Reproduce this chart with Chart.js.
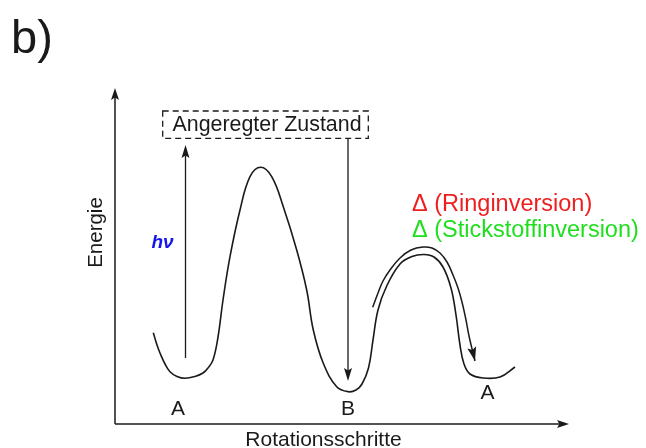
<!DOCTYPE html>
<html><head><meta charset="utf-8">
<script src="https://cdn.jsdelivr.net/npm/chart.js@4"></script>
<style>html,body{margin:0;padding:0;background:#fff;overflow:hidden}#wrap{width:646px;height:448px;position:relative}</style>
</head><body><div id="wrap"><canvas id="c" width="646" height="448"></canvas></div>
<script>
// Potential energy curve (arbitrary units)
const rotationSteps = [38.3,42,45,50,55,62,70,80,88,93,98,103,108,115,125,135,145.7,156.7,168.3,181.7,191.7,198.3,208.3,221.7,233.3,241,247,253.5,258,263,271.7,285,297,309,319,328,336,341,345,349,355,368,385,400];
const energy        = [91.3,79,71,60,52.3,47.5,45.7,47.5,51,56,64,87,124,167.3,214,247.3,256.7,247.3,217.3,174,134,94,60.7,37.3,32.3,34,40,56,84,114,138,160,167.5,169.5,167,157,136,109,79,60,50,46,47,57];
// Thermal pathway arc (arrow over second barrier)
const arcSteps  = [257.7,263,268,275,285,296,308,317,325,332,338,343,347,351,354,360];
const arcEnergy = [116.7,131,143,154,166,174,177,176,171,162,149,136,122,104,88,63];
// Minima labels
const wellLabels = ['A','B','A'];
const wellSteps = [63,233,372.5];
const wellLabelEnergy = [9,9,25];
// Vertical transitions [step, from energy, to energy]
const excitation = [70.5,66,279];
const relaxation = [233,285.7,43];
// Excited state box [step left, step right, energy bottom, energy top]
const excitedBox = [47.7,253.3,285.7,313];
const excitedLabel = 'Angeregter Zustand';
const xTitle = 'Rotationsschritte';
const yTitle = 'Energie';
const panelLabel = 'b)';
const photonLabel = 'hν';
const thermalLabels = ['Δ (Ringinversion)','Δ (Stickstoffinversion)'];

const ink = '#1a1a1a';
const FONT = "'Liberation Sans', Arial, sans-serif";

function pts(xs, ys){ return xs.map((v,i)=>({x:v,y:ys[i]})); }

function arrowHead(ctx, x0, y0, x1, y1, L, W){
  const ang = Math.atan2(y1-y0, x1-x0);
  ctx.beginPath();
  ctx.moveTo(x1, y1);
  ctx.lineTo(x1 - L*Math.cos(ang) + W*Math.sin(ang), y1 - L*Math.sin(ang) - W*Math.cos(ang));
  ctx.lineTo(x1 - L*Math.cos(ang)*0.8, y1 - L*Math.sin(ang)*0.8);
  ctx.lineTo(x1 - L*Math.cos(ang) - W*Math.sin(ang), y1 - L*Math.sin(ang) + W*Math.cos(ang));
  ctx.closePath();
  ctx.fill();
}
function seg(ctx, x0,y0,x1,y1){ ctx.beginPath(); ctx.moveTo(x0,y0); ctx.lineTo(x1,y1); ctx.stroke(); }

const diagram = {
  id:'diagram',
  afterDatasetsDraw(chart){
    const {ctx, chartArea:a, scales:{x,y}} = chart;
    const X = v=>x.getPixelForValue(v), Y = v=>y.getPixelForValue(v);
    ctx.save();
    ctx.strokeStyle = ink; ctx.fillStyle = ink; ctx.lineWidth = 1.5;
    // axes
    seg(ctx, a.left, a.bottom, a.left, a.top+8);
    arrowHead(ctx, a.left, a.bottom, a.left, a.top, 12, 4);
    seg(ctx, a.left, a.bottom, a.right-8, a.bottom);
    arrowHead(ctx, a.left, a.bottom, a.right, a.bottom, 12, 4);
    // transitions
    ctx.lineWidth = 1.3;
    seg(ctx, X(excitation[0]), Y(excitation[1]), X(excitation[0]), Y(excitation[2])+8);
    arrowHead(ctx, X(excitation[0]), Y(excitation[1]), X(excitation[0]), Y(excitation[2]), 13, 4);
    seg(ctx, X(relaxation[0]), Y(relaxation[1]), X(relaxation[0]), Y(relaxation[2])-8);
    arrowHead(ctx, X(relaxation[0]), Y(relaxation[1]), X(relaxation[0]), Y(relaxation[2]), 13, 4);
    // arc arrow head
    const n = arcSteps.length;
    arrowHead(ctx, X(arcSteps[n-2]), Y(arcEnergy[n-2]), X(arcSteps[n-1]), Y(arcEnergy[n-1]), 14, 4.5);
    // dashed box
    ctx.setLineDash([6,4]);
    ctx.lineWidth = 1.3;
    ctx.strokeRect(X(excitedBox[0]), Y(excitedBox[3]), X(excitedBox[1])-X(excitedBox[0]), Y(excitedBox[2])-Y(excitedBox[3]));
    ctx.setLineDash([]);
    // texts
    ctx.textBaseline = 'alphabetic';
    ctx.font = '21.4px ' + FONT;
    ctx.textAlign = 'center';
    ctx.fillText(excitedLabel, (X(excitedBox[0])+X(excitedBox[1]))/2 + 1.5, Y(excitedBox[2]) - 7.6);
    ctx.font = '21px ' + FONT;
    wellLabels.forEach((t,i)=> ctx.fillText(t, X(wellSteps[i]), Y(wellLabelEnergy[i])));
    ctx.fillText(xTitle, a.left + 208.5, a.bottom + 22);
    ctx.save();
    ctx.translate(a.left - 13.5, 232.5);
    ctx.rotate(-Math.PI/2);
    ctx.font = '20.5px ' + FONT;
    ctx.fillText(yTitle, 0, 0);
    ctx.restore();
    ctx.textAlign = 'left';
    ctx.font = '47px ' + FONT;
    ctx.fillText(panelLabel, 11, 53);
    ctx.font = 'italic bold 19px ' + FONT;
    ctx.fillStyle = 'rgb(20,20,235)';
    ctx.fillText(photonLabel, X(excitation[0]) - 34, 247.5);
    ctx.font = '23.5px ' + FONT;
    ctx.fillStyle = 'rgb(238,30,30)';
    ctx.fillText(thermalLabels[0], 412, 211);
    ctx.fillStyle = 'rgb(30,222,30)';
    ctx.fillText(thermalLabels[1], 412, 236.5);
    ctx.restore();
  }
};

new Chart(document.getElementById('c'), {
  type: 'scatter',
  data: { datasets: [
    { data: pts(rotationSteps, energy), showLine:true, pointRadius:0, borderColor:ink, borderWidth:1.6, tension:0.4, fill:false },
    { data: pts(arcSteps, arcEnergy), showLine:true, pointRadius:0, borderColor:ink, borderWidth:1.5, tension:0.4, fill:false }
  ]},
  options: {
    responsive:false, animation:false, devicePixelRatio:1,
    layout:{ padding:{ left:115, right:77, top:88, bottom:24 } },
    plugins:{ legend:{display:false}, tooltip:{enabled:false}, title:{display:false} },
    scales:{
      x:{ type:'linear', min:0, max:454, display:false },
      y:{ type:'linear', min:0, max:336, display:false }
    }
  },
  plugins:[diagram]
});
</script>
</body></html>
